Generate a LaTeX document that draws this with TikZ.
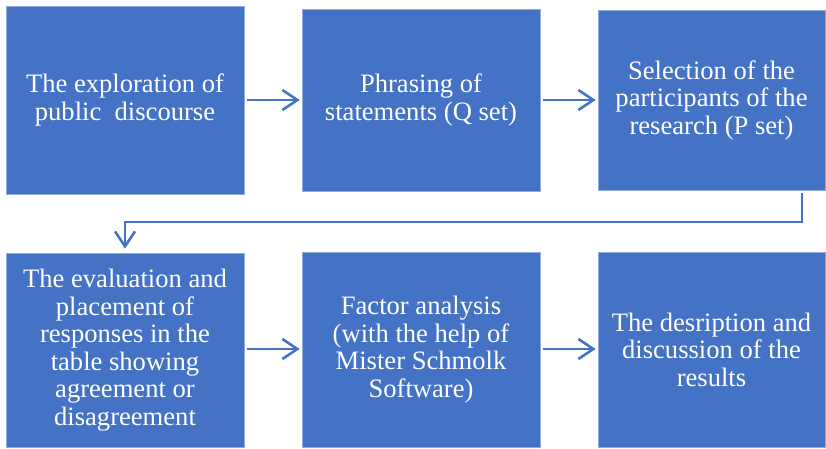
\documentclass[tikz,border=0pt]{standalone}
\usepackage{fontspec}
\setmainfont{Liberation Serif}
\usetikzlibrary{arrows.meta}
\definecolor{officeblue}{HTML}{4472C4}
\definecolor{edgeblue}{HTML}{8FAADC}
\tikzset{
  stepbox/.style={fill=officeblue, draw=edgeblue, line width=0.6pt, inner sep=0pt,
    text=white, align=center, font=\fontsize{26.6}{27.5}\selectfont},
  conn/.style={draw=officeblue, line width=2.6pt,
    -{Straight Barb[length=15pt,width=20pt,line width=2.6pt]}},
}
\begin{document}
\begin{tikzpicture}[x=1pt,y=-1pt]
\useasboundingbox (0,0) rectangle (826,448);
\node[stepbox, minimum width=238pt, minimum height=188pt] (b1) at (125,100)
  {The exploration of\\public~ discourse};
\node[stepbox, minimum width=238pt, minimum height=182pt] (b2) at (421,100)
  {Phrasing of\\statements (Q set)};
\node[stepbox, minimum width=227pt, minimum height=180pt] (b3) at (711.5,100)
  {Selection of the\\participants of the\\research (P set)};
\node[stepbox, minimum width=238pt, minimum height=194pt] (b4) at (125,350)
  {The evaluation and\\placement of\\responses in the\\table showing\\agreement or\\disagreement};
\node[stepbox, minimum width=238pt, minimum height=195pt] (b5) at (421,349.5)
  {Factor analysis\\(with the help of\\Mister Schmolk\\Software)};
\node[stepbox, minimum width=227pt, minimum height=195pt] (b6) at (711.5,349.5)
  {The desription and\\discussion of the\\results};
\draw[conn, shorten <=3pt, shorten >=2pt] (b1) -- (b2);
\draw[conn, shorten <=3pt, shorten >=2pt] (b2) -- (b3);
\draw[conn, shorten <=3pt, shorten >=2pt] (b4.east |- 0,349) -- (b5.west |- 0,349);
\draw[conn, shorten <=3pt, shorten >=2pt] (b5.east |- 0,349) -- (b6.west |- 0,349);
\coordinate (turn) at (125,222);
\draw[conn, shorten <=3pt, shorten >=4pt] ([xshift=90.5pt]b3.south) |- (turn) -- (b4.north);
\end{tikzpicture}
\end{document}
